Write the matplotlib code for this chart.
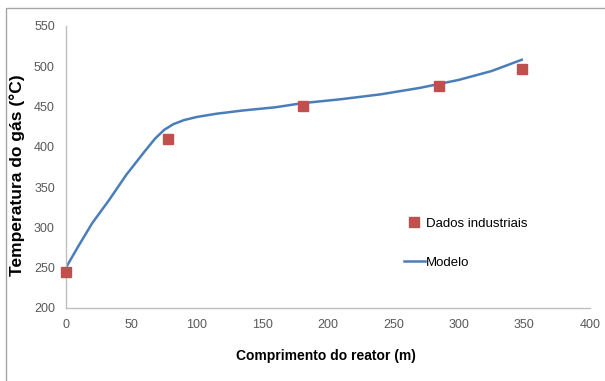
import matplotlib.pyplot as plt
from matplotlib.patches import Rectangle

# Dados
dados_x = [0, 78, 181, 285, 348]
dados_y = [245, 410, 450, 475, 496]

modelo_x = [0, 10, 20, 33, 46, 60, 68, 75, 82, 90, 100, 115, 135, 160, 180, 210, 240, 270, 300, 325, 348]
modelo_y = [250, 278, 305, 334, 365, 394, 410, 421, 428, 433, 437, 441, 445, 449, 454, 459, 465, 473, 483, 494, 508]

x_ticks = [0, 50, 100, 150, 200, 250, 300, 350, 400]
y_ticks = [200, 250, 300, 350, 400, 450, 500, 550]

tick_font = ["Liberation Sans Narrow", "Liberation Sans", "DejaVu Sans"]
label_font = ["Liberation Sans", "DejaVu Sans"]

# Chart erstellen
fig = plt.figure(figsize=(6.05, 3.81), dpi=100)
ax = fig.add_axes([0.109, 0.192, 0.866, 0.740])

ax.plot(dados_x, dados_y, linestyle="none", marker="s", markersize=7,
        color="#C0504D", label="Dados industriais", zorder=3, clip_on=False)
ax.plot(modelo_x, modelo_y, color="#4A7EBB", linewidth=1.8, label="Modelo", zorder=2)

ax.set_xlim(0, 400)
ax.set_ylim(200, 550)
ax.set_xticks(x_ticks)
ax.set_yticks(y_ticks)
ax.tick_params(length=0, pad=8, labelsize=9, labelcolor="#595959")
for lbl in ax.get_xticklabels() + ax.get_yticklabels():
    lbl.set_family(tick_font)

for side in ["top", "right"]:
    ax.spines[side].set_visible(False)
for side in ["left", "bottom"]:
    ax.spines[side].set_color("#BFBFBF")
    ax.spines[side].set_linewidth(1.0)

ax.set_xlabel("Comprimento do reator (m)", fontsize=10, fontweight="bold",
              family=label_font)
ax.set_ylabel("Temperatura do gás (°C)", fontsize=12.5, fontweight="bold",
              family=label_font)
ax.xaxis.set_label_coords(0.496, -0.147)
ax.yaxis.set_label_coords(-0.078, 0.472)

leg = ax.legend(loc="center left", bbox_to_anchor=(0.645, 0.229), frameon=False,
                borderpad=0, borderaxespad=0, handlelength=1.6, handletextpad=0.1,
                labelspacing=2.0, prop={"family": tick_font, "size": 9.5})

# Rahmen um das Diagramm
fig.patches.append(Rectangle((6 / 605, -0.1), 1.2, (373 / 381) + 0.1,
                             transform=fig.transFigure, fill=False,
                             edgecolor="#A6A6A6", linewidth=1.0))

fig.savefig("out.png", dpi=100)
